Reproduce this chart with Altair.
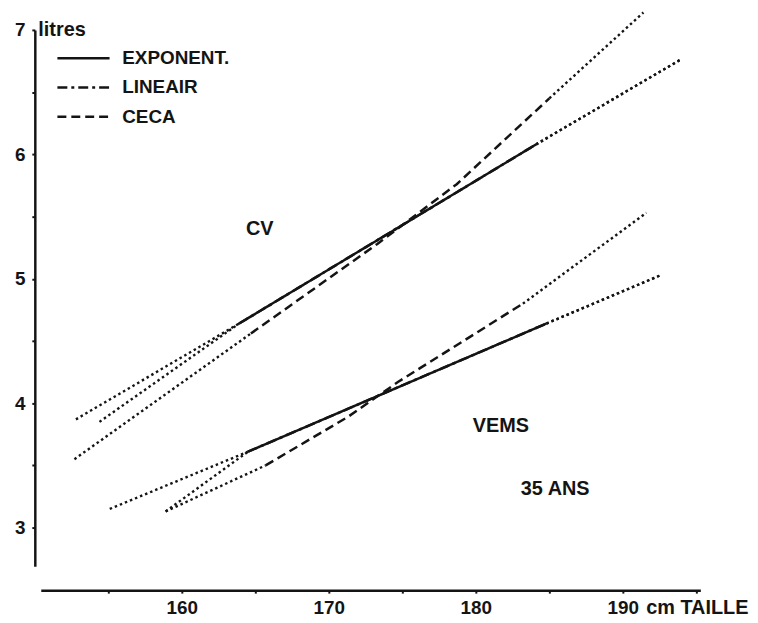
import altair as alt
import pandas as pd

# Taille (cm) / litres
cv_exp_x = [154.4, 163.9, 184.1, 193.9]
cv_exp_y = [3.85, 4.64, 6.08, 6.76]
cv_lin_x = [152.8, 163.9, 184.1, 193.9]
cv_lin_y = [3.87, 4.64, 6.08, 6.76]
cv_ceca_x = [152.7, 164.7, 173.3, 178.7, 185.0, 191.4]
cv_ceca_y = [3.55, 4.56, 5.28, 5.76, 6.45, 7.14]

vems_exp_x = [158.9, 164.5, 184.8, 192.6]
vems_exp_y = [3.13, 3.61, 4.64, 5.03]
vems_lin_x = [155.1, 164.5, 184.8, 192.6]
vems_lin_y = [3.15, 3.61, 4.64, 5.03]
vems_ceca_x = [158.9, 165.7, 171.3, 174.7, 183.2, 191.6]
vems_ceca_y = [3.13, 3.50, 3.89, 4.17, 4.80, 5.53]

methods = ["EXPONENT.", "LINEAIR", "CECA"]
annot_labels = ["CV", "VEMS", "35 ANS"]
annot_x = [165.3, 181.7, 185.4]
annot_y = [5.40, 3.82, 3.31]

x_ticks = [155, 160, 165, 170, 175, 180, 185, 190, 195]
y_ticks = [3, 3.5, 4, 4.5, 5, 5.5, 6, 6.5, 7]

series = [
    ("CV", "EXPONENT.", cv_exp_x, cv_exp_y),
    ("CV", "LINEAIR", cv_lin_x, cv_lin_y),
    ("CV", "CECA", cv_ceca_x, cv_ceca_y),
    ("VEMS", "EXPONENT.", vems_exp_x, vems_exp_y),
    ("VEMS", "LINEAIR", vems_lin_x, vems_lin_y),
    ("VEMS", "CECA", vems_ceca_x, vems_ceca_y),
]

ext_rows, core_rows = [], []
for panel, method, xs, ys in series:
    n = len(xs)
    a, b = 1, n - 2  # drawn part from point a to point b, dotted outside
    for i in range(n):
        row = dict(panel=panel, method=method, x=xs[i], y=ys[i], order=i)
        if i <= a:
            ext_rows.append(dict(row, seg=f"{panel}-{method}-L"))
        if i >= b:
            ext_rows.append(dict(row, seg=f"{panel}-{method}-R"))
        if a <= i <= b:
            core_rows.append(dict(row, seg=f"{panel}-{method}-C"))

df_ext = pd.DataFrame(ext_rows)
df_core = pd.DataFrame(core_rows)
df_txt = pd.DataFrame(dict(label=annot_labels, x=annot_x, y=annot_y))

FONT = "Liberation Sans"
INK = "#141414"

xenc = alt.X(
    "x:Q",
    scale=alt.Scale(domain=[150.41, 195.27], nice=False, zero=False),
    axis=alt.Axis(
        values=x_ticks,
        labelExpr="datum.value % 10 === 0 ? format(datum.value, 'd') : ''",
        offset=24,
        grid=False,
        title="cm TAILLE",
        titleX=609,
        titleY=24,
        titleAlign="left",
        titleBaseline="alphabetic",
        labelPadding=6,
    ),
)
yenc = alt.Y(
    "y:Q",
    scale=alt.Scale(domain=[2.689, 7.0], nice=False, zero=False),
    axis=alt.Axis(
        values=y_ticks,
        labelExpr="datum.value % 1 === 0 ? format(datum.value, 'd') : ''",
        offset=6,
        grid=False,
        title="litres",
        titleAngle=0,
        titleX=3,
        titleY=6,
        titleAlign="left",
        titleBaseline="alphabetic",
        labelPadding=7,
    ),
)

ext = alt.Chart(df_ext).mark_line(
    strokeDash=[2.5, 3], strokeWidth=2.4, color=INK
).encode(x=xenc, y=yenc, detail="seg:N", order="order:Q")

core = alt.Chart(df_core).mark_line(strokeWidth=2.5, color=INK).encode(
    x=xenc,
    y=yenc,
    detail="seg:N",
    order="order:Q",
    strokeDash=alt.StrokeDash(
        "method:N",
        scale=alt.Scale(domain=methods, range=[[1, 0], [10, 4, 3, 4], [9, 5]]),
        legend=alt.Legend(
            title=None,
            orient="none",
            legendX=31,
            legendY=16.5,
            symbolType="M-2.5,0H2.5",
            symbolSize=441,
            symbolStrokeWidth=2.5,
            symbolStrokeColor=INK,
            labelOffset=27,
            labelFont=FONT,
            labelFontSize=19,
            labelFontWeight="bold",
            labelColor=INK,
            rowPadding=7.5,
            padding=0,
        ),
    ),
)

txt = alt.Chart(df_txt).mark_text(
    font=FONT, fontSize=20, fontWeight="bold", color=INK
).encode(x=xenc, y=yenc, text="label:N")

chart = (
    alt.layer(ext, core, txt)
    .properties(
        width=664,
        height=540,
        padding={"left": 33, "top": 20, "right": 50, "bottom": 55},
        autosize="none",
        background="white",
    )
    .configure_view(strokeOpacity=0)
    .configure_axis(
        domainColor=INK,
        domainWidth=2.5,
        tickColor=INK,
        tickWidth=2,
        tickSize=3,
        labelFont=FONT,
        labelFontSize=19,
        labelFontWeight="bold",
        labelColor=INK,
        titleFont=FONT,
        titleFontSize=20,
        titleFontWeight="bold",
        titleColor=INK,
    )
)

chart.save("out.html", embed_options={"renderer": "svg", "actions": False})
